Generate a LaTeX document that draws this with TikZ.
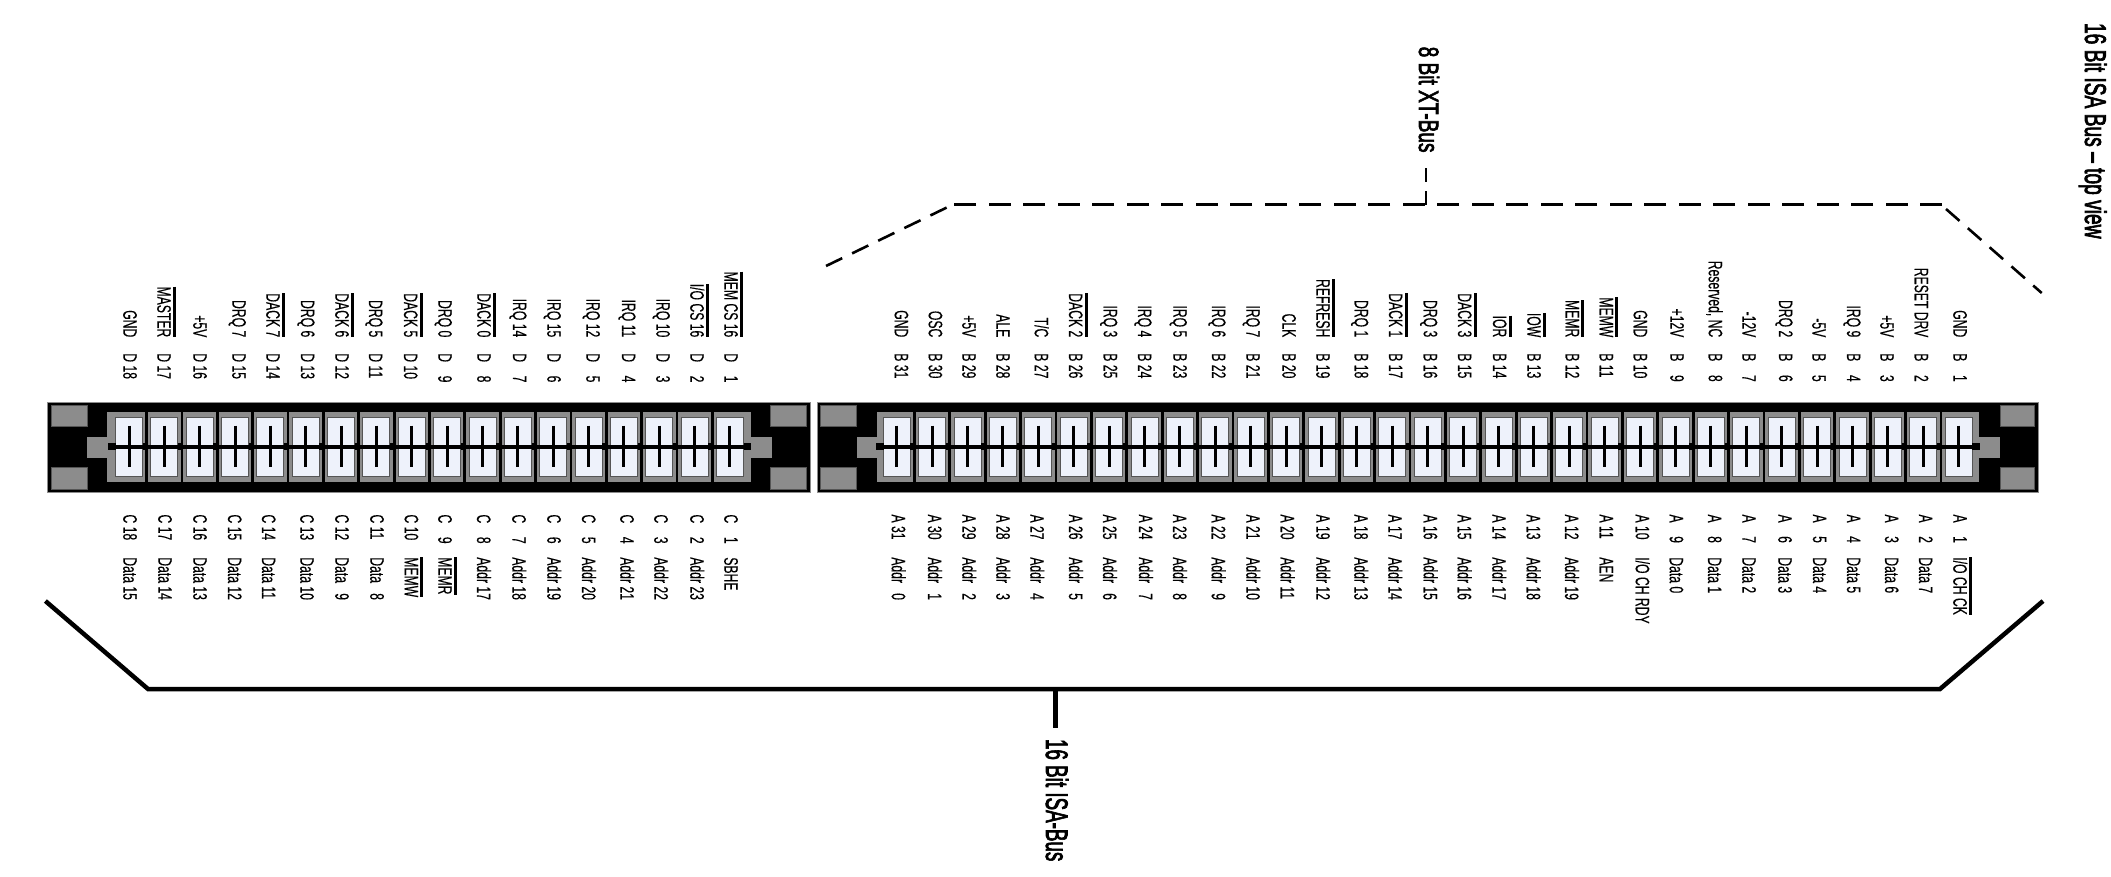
\documentclass[tikz,border=0pt]{standalone}
\usepackage{fontspec}
\setmainfont{Liberation Sans}
\newfontfamily\padfont[FakeBold=0.35]{Liberation Sans}
\newfontfamily\busfont[FakeBold=3,Ligatures=TeX]{Liberation Sans}
\usepackage{xcolor}
\usepackage{tikz}
\definecolor{slotgray}{HTML}{8C8C8C}
\definecolor{slotedge}{HTML}{555555}
\definecolor{slotface}{HTML}{EEF2FB}
\newcommand{\ovl}[1]{\vbox{\hrule height 3pt\kern 2pt\hbox{#1}}}
\newcommand{\padnum}[1]{\ifnum#1<10 \ \ \ \fi#1}
\tikzset{
  padtext/.style={rotate=-90, xscale=.625, inner sep=0pt, outer sep=0pt,
    font=\padfont\fontsize{19.5}{20}\selectfont},
  padcode/.style={padtext, anchor=base west},
  topname/.style={padtext, anchor=base east},
  botname/.style={padtext, anchor=base west},
  bustitle/.style={rotate=-90, inner sep=0pt, outer sep=0pt, anchor=base west},
  xtbus/.style={line width=2.6pt, dash pattern=on 22pt off 12.5pt},
  xtslant/.style={line width=2.6pt, dash pattern=on 18pt off 11pt},
  isabus/.style={line width=4.5pt, line join=miter}
}
\begin{document}
\begin{tikzpicture}[x=1pt, y=-1pt]
\useasboundingbox (0,0) rectangle (2111,876);
% connector bodies
\foreach \xa/\xb in {47.5/810, 817/2038}
\filldraw[fill=black, draw=slotgray, line width=1pt] (\xa,402) rectangle (\xb,492);
% corner squares
\foreach \xa/\xb in {51.7/87.3, 770/806, 820.7/856, 2000/2034}
{
\filldraw[fill=slotgray, draw=slotedge, line width=.8pt] (\xa,405) rectangle (\xb,426.3);
\filldraw[fill=slotgray, draw=slotedge, line width=.8pt] (\xa,467) rectangle (\xb,489);
}
% tabs and wider end cells
\foreach \xa/\xb in {86.7/110, 748/771.7, 856.7/880, 1976/2000}
\fill[slotgray] (\xa,436.7) rectangle (\xb,457.7);
\foreach \xa/\xb in {106.7/113, 745/750.7, 877.3/881, 1975/1979.3}
\fill[slotgray] (\xa,411.7) rectangle (\xb,481.7);
% pins
\foreach \ox/\last/\dx in {129/17/35.35, 896.7/30/35.4}
\foreach \i in {0,...,\last}
{
\begin{scope}[xshift=\ox pt+\i*\dx pt]
\fill[slotgray] (-16.3,411.7) rectangle (16.3,481.7);
\filldraw[fill=slotface, draw=slotedge, line width=1pt] (-13.5,417.7) rectangle (13.5,476.7);
\draw[line width=3pt] (0,425.7) -- (0,467);
\draw[line width=4pt] (-17.7,446.7) -- (17.7,446.7);
\fill[black] (13.7,443.4) rectangle (21.4,450);
\end{scope}
}
\fill[black] (107.7,443.4) rectangle (115.5,450);
\fill[black] (875.7,443.4) rectangle (883.5,450);
% side D
\foreach \x/\n/\s in {130.3/18/GND, 164.3/17/\ovl{MASTER}, 200.3/16/+5V, 239.3/15/DRQ 7,
273.3/14/\ovl{DACK 7}, 308/13/DRQ 6, 342.3/12/\ovl{DACK 6}, 376/11/DRQ 5,
411/10/\ovl{DACK 5}, 445.3/9/DRQ 0, 484.3/8/\ovl{DACK 0}, 520/7/IRQ 14,
554.3/6/IRQ 15, 593.3/5/IRQ 12, 629/4/IRQ 11, 663.3/3/IRQ 10,
697.3/2/\ovl{I/O CS 16}, 731.3/1/\ovl{MEM CS 16}}
{
\node[padcode] (codeD\n) at (\x-7,353.3) {D \padnum{\n}};
\node[topname] (nameD\n) at (\x-7,337.3) {\s};
}
% side C
\foreach \x/\n/\s in {130.3/18/Data 15, 165.3/17/Data 14, 200.3/16/Data 13, 235/15/Data 12,
269/14/Data 11, 307.3/13/Data 10, 342.3/12/Data\ \ \ 9, 377.3/11/Data\ \ \ 8,
411.7/10/\ovl{MEMW}, 445.3/9/\ovl{MEMR}, 484/8/Addr 17, 519.3/7/Addr 18,
554.3/6/Addr 19, 589/5/Addr 20, 627.3/4/Addr 21, 661.3/3/Addr 22,
697.3/2/Addr 23, 731.3/1/SBHE}
{
\node[padcode] (codeC\n) at (\x-7,514.5) {C \padnum{\n}};
\node[botname] (nameC\n) at (\x-7,557.3) {\s};
}
% side B
\foreach \x/\n/\s in {901.7/31/GND, 935.7/30/OSC, 969.3/29/+5V, 1003.3/28/ALE,
1041.7/27/{T/C}, 1076/26/\ovl{DACK 2}, 1110.7/25/IRQ 3, 1145/24/IRQ 4,
1180.3/23/IRQ 5, 1219/22/IRQ 6, 1253.3/21/IRQ 7, 1289.3/20/CLK,
1323.3/19/\ovl{REFRESH}, 1361.7/18/DRQ 1, 1396/17/\ovl{DACK 1}, 1430.7/16/DRQ 3,
1465/15/\ovl{DACK 3}, 1500/14/\ovl{IOR}, 1534.3/13/\ovl{IOW}, 1572.7/12/\ovl{MEMR},
1606.7/11/\ovl{MEMW}, 1640.7/10/GND, 1677.3/9/+12V, 1715.7/8/{Reserved, NC},
1749.3/7/-12V, 1786/6/DRQ 2, 1819.3/5/-5V, 1854/4/IRQ 9,
1887.3/3/+5V, 1921.7/2/RESET DRV, 1960.3/1/GND}
{
\node[padcode] (codeB\n) at (\x-7,353.3) {B \padnum{\n}};
\node[topname] (nameB\n) at (\x-7,337.3) {\s};
}
% side A
\foreach \x/\n/\s in {898.7/31/Addr\ \ \ 0, 935/30/Addr\ \ \ 1, 969.3/29/Addr\ \ \ 2, 1003.3/28/Addr\ \ \ 3,
1037.3/27/Addr\ \ \ 4, 1076/26/Addr\ \ \ 5, 1110/25/Addr\ \ \ 6, 1146/24/Addr\ \ \ 7,
1180/23/Addr\ \ \ 8, 1218.7/22/Addr\ \ \ 9, 1253.3/21/Addr 10, 1287.7/20/Addr 11,
1323.3/19/Addr 12, 1361.3/18/Addr 13, 1395.3/17/Addr 14, 1430.7/16/Addr 15,
1464.7/15/Addr 16, 1499.3/14/Addr 17, 1533.7/13/Addr 18, 1572/12/Addr 19,
1606.7/11/AEN, 1642.7/10/{I/O CH RDY}, 1676.7/9/Data 0, 1715/8/Data 1,
1749.3/7/Data 2, 1785.3/6/Data 3, 1820/5/Data 4, 1854/4/Data 5,
1892/3/Data 6, 1926/2/Data 7, 1960.3/1/\ovl{I/O CH CK}}
{
\node[padcode] (codeA\n) at (\x-7,514.5) {A \padnum{\n}};
\node[botname] (nameA\n) at (\x-7,557.3) {\s};
}
% 8 bit bus
\coordinate (xtleft) at (826,266);
\coordinate (xtcornerl) at (953,204.5);
\coordinate (xtcornerr) at (1942,204.5);
\coordinate (xtstart) at (1946,209);
\coordinate (xtright) at (2041.7,293);
\coordinate (xtjoin) at (1426,204.5);
\coordinate (xtend) at (1426,168);
\draw[xtbus] (xtcornerr) -- (xtcornerl);
\draw[xtslant] (xtleft) -- (xtcornerl);
\draw[xtslant] (xtstart) -- (xtright);
\draw[line width=2.6pt, dash pattern=on 14pt off 9pt] (xtjoin) -- (xtend);
\node[bustitle, font=\busfont\fontsize{28}{30}\selectfont, xscale=.68] (xttitle) at (1419,46.7) {8 Bit XT-Bus};
% 16 bit bus
\coordinate (isaleft) at (45.4,601);
\coordinate (isacornerl) at (148,689);
\coordinate (isacornerr) at (1940,689);
\coordinate (isaright) at (2043,601);
\coordinate (isajoin) at (1055.6,689);
\coordinate (isaend) at (1055.6,728);
\draw[isabus] (isaleft) -- (isacornerl) -- (isacornerr) -- (isaright);
\draw[line width=5.5pt] (isajoin) -- (isaend);
\node[bustitle, font=\busfont\fontsize{31}{34}\selectfont, xscale=.607] (isatitle) at (1046,739) {16 Bit ISA-Bus};
\node[bustitle, font=\busfont\fontsize{30}{32}\selectfont, xscale=.64] (toptitle) at (2085,23) {16 Bit ISA Bus -- top view};
\end{tikzpicture}
\end{document}
